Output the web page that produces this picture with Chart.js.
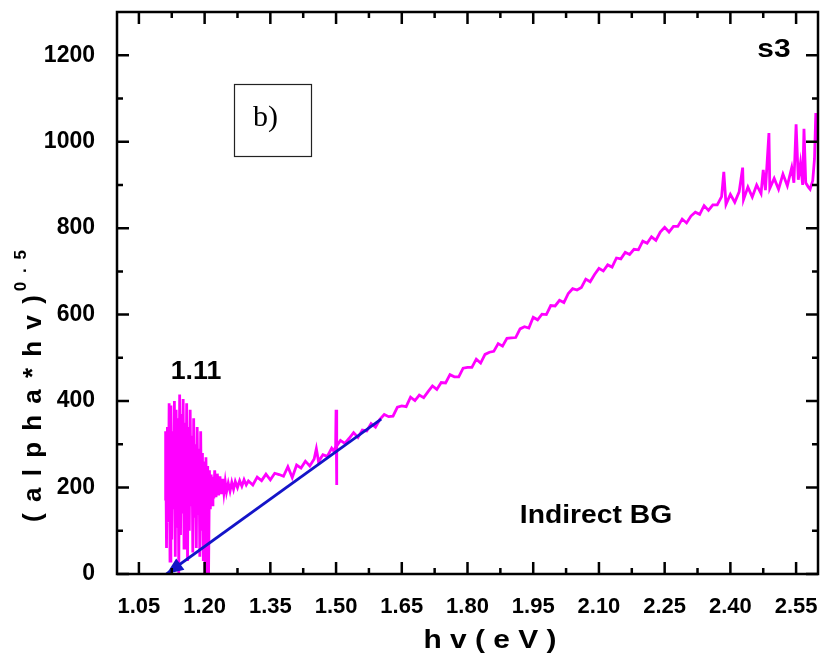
<!DOCTYPE html>
<html>
<head>
<meta charset="utf-8">
<script src="https://cdn.jsdelivr.net/npm/chart.js@4.4.0/dist/chart.umd.min.js"></script>
<style>
html,body{margin:0;padding:0;background:#fff;}
canvas{display:block;}
</style>
</head>
<body>
<canvas id="c" width="822" height="669"></canvas>
<script>
// ---- data ----
const hv = [
1.110,1.111,1.113,1.115,1.117,1.119,1.121,1.123,1.125,1.127,1.129,1.131,1.133,1.135,1.137,1.139,1.141,1.143,1.145,1.147,
1.149,1.151,1.153,1.155,1.157,1.159,1.161,1.163,1.165,1.167,1.169,1.171,1.173,1.175,1.177,1.179,1.181,1.183,1.185,1.187,
1.189,1.191,1.193,1.195,1.197,1.199,1.201,1.203,1.205,1.207,1.209,1.211,1.213,1.215,1.217,1.219,1.221,
1.223,1.226,1.229,1.232,1.235,1.238,1.241,1.244,1.247,1.250,1.254,1.258,1.262,1.266,1.270,1.275,1.280,1.285,1.290,1.295,1.300,
1.31,1.32,1.33,1.34,1.35,1.36,1.37,1.38,1.39,1.40,1.41,1.42,1.43,1.44,1.45,1.455,1.46,1.47,1.48,1.49,1.495,1.499,1.500,1.501,1.502,
1.51,1.52,1.53,1.54,1.55,1.56,1.57,1.58,1.59,1.60,1.61,1.62,1.63,1.64,1.65,1.66,1.67,1.68,1.69,1.70,
1.71,1.72,1.73,1.74,1.75,1.76,1.77,1.78,1.79,1.80,1.81,1.82,1.83,1.84,1.85,1.86,1.87,1.88,1.89,1.90,
1.91,1.92,1.93,1.94,1.95,1.96,1.97,1.98,1.99,2.00,2.01,2.02,2.03,2.04,2.05,2.06,2.07,2.08,2.09,2.10,
2.11,2.12,2.13,2.14,2.15,2.16,2.17,2.18,2.19,2.20,2.21,2.22,2.23,2.24,2.25,2.26,2.27,2.28,2.29,2.30,
2.31,2.32,2.33,2.34,2.35,2.36,2.37,2.38,2.385,2.39,2.40,2.41,2.42,2.428,2.43,2.44,2.45,2.46,2.47,2.475,
2.48,2.488,2.49,2.50,2.51,2.52,2.53,2.54,2.545,2.55,2.555,2.56,2.565,2.568,2.572,2.578,2.582,2.588,2.592,2.595,2.598,2.60
];
const alphaHv = [
170,330,60,340,120,395,30,390,80,330,150,400,40,380,110,360,0,415,90,370,
140,405,60,350,120,395,30,340,100,380,160,320,50,360,130,300,60,340,140,290,
40,330,100,280,30,260,5,270,120,250,0,240,150,230,160,225,175,
240,178,232,182,226,185,220,188,214,190,210,192,212,196,214,200,216,203,218,206,215,
206,224,216,231,218,233,230,226,248,223,252,245,261,250,266,290,260,276,272,291,284,295,380,206,296,
309,302,314,327,316,333,331,348,340,358,369,364,365,386,389,387,409,401,414,408,
422,435,427,443,442,461,456,456,476,478,478,497,488,508,513,515,533,527,545,546,
547,567,572,569,594,588,601,600,621,620,633,628,649,660,657,663,682,676,693,707,
701,715,710,731,729,744,739,751,750,770,765,780,772,791,802,791,804,804,821,812,
828,837,832,852,841,854,854,873,930,855,878,860,884,940,866,895,872,900,880,935,
888,1020,892,915,890,925,898,940,905,1040,912,950,900,1030,905,895,890,910,960,1066,1000,1060
];
// linear extrapolation line drawn in the figure (indirect band gap 1.11 eV)
const fitHv = [1.603, 1.113];
const fitY  = [358, 0];
// tick labels
const xTicks = [1.05,1.20,1.35,1.50,1.65,1.80,1.95,2.10,2.25,2.40,2.55];
const yTicks = [0,200,400,600,800,1000,1200];

const FONT = '"Liberation Sans", Arial, sans-serif';
const BLUE = '#1414c8';

const decor = {
  id: 'decor',
  afterDraw(chart) {
    const {ctx, chartArea: a, scales: {x, y}} = chart;
    ctx.save();
    // arrow head on the fit line
    const x0 = x.getPixelForValue(fitHv[0]), y0 = y.getPixelForValue(fitY[0]);
    const x1 = x.getPixelForValue(fitHv[1]), y1 = y.getPixelForValue(fitY[1]);
    const ang = Math.atan2(y1 - y0, x1 - x0);
    const L = 17, W = 7;
    ctx.fillStyle = BLUE;
    ctx.beginPath();
    ctx.moveTo(x1, y1);
    ctx.lineTo(x1 - L*Math.cos(ang) + W*Math.sin(ang), y1 - L*Math.sin(ang) - W*Math.cos(ang));
    ctx.lineTo(x1 - L*Math.cos(ang) - W*Math.sin(ang), y1 - L*Math.sin(ang) + W*Math.cos(ang));
    ctx.closePath();
    ctx.fill();

    // frame
    ctx.strokeStyle = '#000';
    ctx.lineWidth = 2.5;
    ctx.strokeRect(a.left, a.top, a.right - a.left, a.bottom - a.top);
    // inward ticks
    ctx.lineWidth = 2.5;
    ctx.beginPath();
    const step = xTicks[1] - xTicks[0];
    xTicks.forEach(v => {
      const p = x.getPixelForValue(v);
      ctx.moveTo(p, a.bottom); ctx.lineTo(p, a.bottom - 12);
      ctx.moveTo(p, a.top); ctx.lineTo(p, a.top + 12);
      const m = x.getPixelForValue(v + step/2);
      if (m < a.right - 2) {
        ctx.moveTo(m, a.bottom); ctx.lineTo(m, a.bottom - 6);
        ctx.moveTo(m, a.top); ctx.lineTo(m, a.top + 6);
      }
    });
    const ystep = yTicks[1] - yTicks[0];
    yTicks.forEach(v => {
      const p = y.getPixelForValue(v);
      ctx.moveTo(a.left, p); ctx.lineTo(a.left + 12, p);
      ctx.moveTo(a.right, p); ctx.lineTo(a.right - 12, p);
      const m = y.getPixelForValue(v + ystep/2);
      if (m > a.top + 2) {
        ctx.moveTo(a.left, m); ctx.lineTo(a.left + 6, m);
        ctx.moveTo(a.right, m); ctx.lineTo(a.right - 6, m);
      }
    });
    ctx.stroke();

    // texts
    ctx.fillStyle = '#000';
    function stretched(txt, cx, cy, font, sx) {
      ctx.save();
      ctx.font = font;
      ctx.textAlign = 'center';
      ctx.textBaseline = 'middle';
      ctx.translate(cx, cy);
      ctx.scale(sx, 1);
      ctx.fillText(txt, 0, 0);
      ctx.restore();
    }
    stretched('1.11', 196, 372, 'bold 25px ' + FONT, 1.07);
    stretched('s3', 774, 50, 'bold 26px ' + FONT, 1.15);
    stretched('Indirect BG', 596, 516, 'bold 25px ' + FONT, 1.13);
    stretched('h v ( e V )', 490, 641, 'bold 26px ' + FONT, 1.15);

    // b) box
    ctx.strokeStyle = '#222';
    ctx.lineWidth = 1.2;
    ctx.strokeRect(234.5, 84.5, 77, 72);
    ctx.font = '30px "Liberation Serif", "Times New Roman", serif';
    ctx.textAlign = 'left';
    ctx.textBaseline = 'alphabetic';
    ctx.fillText('b)', 253, 126);

    // y title rotated
    ctx.save();
    ctx.translate(41, 386);
    ctx.rotate(-Math.PI/2);
    ctx.letterSpacing = '2px';
    ctx.font = 'bold 26px ' + FONT;
    const main = '( a l p h a * h v )';
    const wMain = ctx.measureText(main).width;
    ctx.font = 'bold 17px ' + FONT;
    const sup = '0 . 5';
    const wSup = ctx.measureText(sup).width;
    const start = -(wMain + wSup) / 2;
    ctx.textAlign = 'left';
    ctx.textBaseline = 'alphabetic';
    ctx.font = 'bold 26px ' + FONT;
    ctx.fillText(main, start, 0);
    ctx.font = 'bold 17px ' + FONT;
    ctx.fillText(sup, start + wMain + 2, -15);
    ctx.restore();

    ctx.restore();
  }
};

new Chart(document.getElementById('c'), {
  type: 'line',
  data: {
    datasets: [
      {
        data: hv.map((v, i) => ({x: v, y: alphaHv[i]})),
        borderColor: '#ff00ff',
        borderWidth: 2.8,
        pointRadius: 0,
        tension: 0,
        order: 2
      },
      {
        data: fitHv.map((v, i) => ({x: v, y: fitY[i]})),
        borderColor: BLUE,
        borderWidth: 2.8,
        pointRadius: 0,
        tension: 0,
        order: 1
      }
    ]
  },
  options: {
    responsive: false,
    animation: false,
    devicePixelRatio: 1,
    layout: {padding: {top: 12, right: 4, left: 0, bottom: 0}},
    plugins: {legend: {display: false}, tooltip: {enabled: false}},
    scales: {
      x: {
        type: 'linear', min: 1.0, max: 2.6,
        grid: {display: false}, border: {display: false},
        afterBuildTicks: s => { s.ticks = xTicks.map(v => ({value: v})); },
        afterFit: s => { s.height = 95; s.paddingLeft = 0; s.paddingRight = 0; },
        ticks: {
          color: '#000', padding: 12, maxRotation: 0, autoSkip: false,
          font: {family: FONT, size: 22, weight: 'bold'},
          callback: v => Number(v).toFixed(2)
        }
      },
      y: {
        type: 'linear', min: 0, max: 1300,
        grid: {display: false}, border: {display: false},
        afterBuildTicks: s => { s.ticks = yTicks.map(v => ({value: v})); },
        afterFit: s => { s.width = 117; s.paddingTop = 0; s.paddingBottom = 0; },
        ticks: {
          color: '#000', padding: 14,
          font: {family: FONT, size: 23, weight: 'bold'},
          callback: v => String(v)
        }
      }
    }
  },
  plugins: [decor]
});
</script>
</body>
</html>
